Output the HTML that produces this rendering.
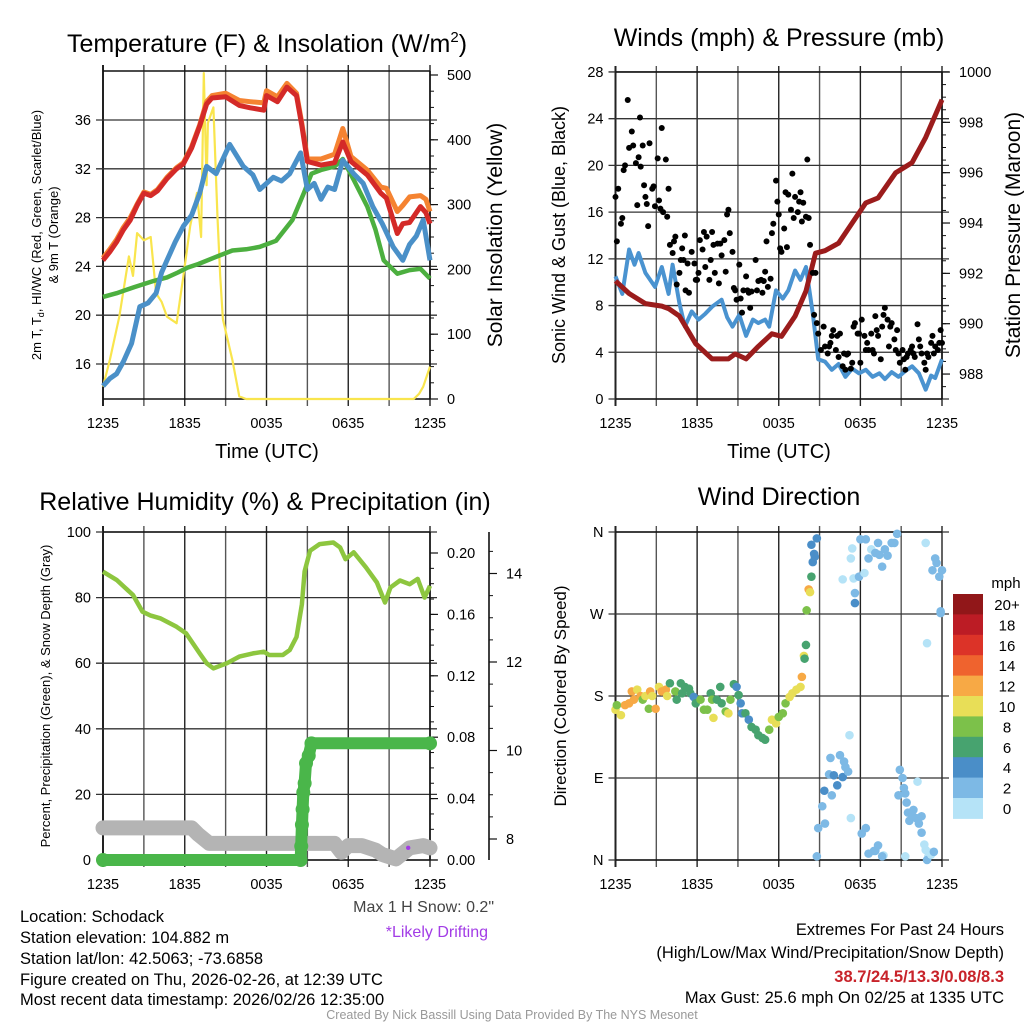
<!DOCTYPE html>
<html><head><meta charset="utf-8"><style>
html,body{margin:0;padding:0;background:#fff;}
svg{display:block;font-family:"Liberation Sans",Arial,sans-serif;}
</style></head><body>
<svg id="chart" width="1024" height="1024" viewBox="0 0 1024 1024" xmlns="http://www.w3.org/2000/svg">
<rect width="1024" height="1024" fill="#fff"/>
<text x="267" y="52" font-size="25" text-anchor="middle">Temperature (F) &amp; Insolation (W/m<tspan font-size="15" dy="-10">2</tspan><tspan dy="10">)</tspan></text>
<text x="779" y="46" font-size="25" text-anchor="middle">Winds (mph) &amp; Pressure (mb)</text>
<text x="265" y="510" font-size="25" text-anchor="middle">Relative Humidity (%) &amp; Precipitation (in)</text>
<text x="779" y="505" font-size="25" text-anchor="middle">Wind Direction</text>

<text x="267" y="458" font-size="20" text-anchor="middle">Time (UTC)</text>
<text x="779" y="458" font-size="20" text-anchor="middle">Time (UTC)</text>
<text transform="translate(41,235) rotate(-90)" font-size="13" text-anchor="middle">2m T, T<tspan font-size="9" dy="3">d</tspan><tspan dy="-3">, HI/WC (Red, Green, Scarlet/Blue)</tspan></text>
<text transform="translate(58,235) rotate(-90)" font-size="13" text-anchor="middle">&amp; 9m T (Orange)</text>
<text transform="translate(502,235) rotate(-90)" font-size="21" text-anchor="middle">Solar Insolation (Yellow)</text>
<text transform="translate(565,235) rotate(-90)" font-size="18" text-anchor="middle">Sonic Wind &amp; Gust (Blue, Black)</text>
<text transform="translate(1020,235) rotate(-90)" font-size="21" text-anchor="middle">Station Pressure (Maroon)</text>
<text transform="translate(50,696) rotate(-90)" font-size="13" text-anchor="middle">Percent, Precipitation (Green), &amp; Snow Depth (Gray)</text>
<text transform="translate(566,696) rotate(-90)" font-size="17" text-anchor="middle">Direction (Colored By Speed)</text>

<g id="layer"></g>

<text x="494" y="912" font-size="16" fill="#444" text-anchor="end">Max 1 H Snow: 0.2"</text>
<text x="488" y="937" font-size="16" fill="#a23ce6" text-anchor="end">*Likely Drifting</text>
<g font-size="16.5">
<text x="20" y="922">Location: Schodack</text>
<text x="20" y="943">Station elevation: 104.882 m</text>
<text x="20" y="964">Station lat/lon: 42.5063; -73.6858</text>
<text x="20" y="985">Figure created on Thu, 2026-02-26, at 12:39 UTC</text>
<text x="20" y="1005">Most recent data timestamp: 2026/02/26 12:35:00</text>
</g>
<g font-size="16.5" text-anchor="end">
<text x="1004" y="935">Extremes For Past 24 Hours</text>
<text x="1004" y="958">(High/Low/Max Wind/Precipitation/Snow Depth)</text>
<text x="1004" y="982" fill="#c8232a" font-weight="bold">38.7/24.5/13.3/0.08/8.3</text>
<text x="1004" y="1003">Max Gust: 25.6 mph On 02/25 at 1335 UTC</text>
</g>
<text x="512" y="1019" font-size="12.5" fill="#999" text-anchor="middle">Created By Nick Bassill Using Data Provided By The NYS Mesonet</text>
</svg>
<script>
// ---------- data ----------
const timeLabels = ["1235","1835","0035","0635","1235"];
const tempTicks = [16,20,24,28,32,36];
const solarTicks = [0,100,200,300,400,500];
const windTicks = [0,4,8,12,16,20,24,28];
const presTicks = [988,990,992,994,996,998,1000];
const rhTicks = [0,20,40,60,80,100];
const precipTicks = ["0.00","0.04","0.08","0.12","0.16","0.20"];
const snowTicks = [8,10,12,14];
const dirTicks = ["N","E","S","W","N"];
const speedBins = ["0","2","4","6","8","10","12","14","16","18","20+"];

const redH = [0,0.5,1,1.5,2,2.5,3,3.5,4,4.7,5.4,5.9,6.5,7.1,7.6,8,9,10,10.8,11.8,12,12.8,13.5,14.2,14.6,15,16,17,17.6,18.2,19.4,20.4,20.8,21.6,22,22.5,23.3,23.7,24];
const redV = [24.5,25.2,26,27,27.8,29,30,29.8,30.2,31.2,32,32.4,33.7,35.5,37.3,37.8,37.9,37.2,37,36.8,38,37.5,38.7,38,35.5,32.6,32.3,32.5,34.2,32.6,31.5,30.0,29.6,26.7,27.5,27.6,28.9,28.4,27.5];
const orangeV = [24.7,25.4,26.2,27.2,28,29.1,30.1,29.9,30.3,31.3,32.1,32.5,33.8,35.6,37.5,38,38.2,37.6,37.5,37.4,38.4,37.9,39,38.2,35.7,32.8,32.8,33.2,35.3,33,31.9,30.5,30.4,28.5,29,29.7,29.8,29.5,28.5];
const blueH = [0,0.5,1,1.5,2.1,2.7,3.3,3.9,4.3,4.7,5.3,5.9,6.5,7.1,7.6,8.3,9.3,10.3,11,11.5,12.5,13.1,13.7,14.5,15,15.5,16,16.5,17,17.6,18.4,19.1,19.8,20.5,21.3,22,22.5,23,23.5,24];
const blueV = [14.2,14.8,15.2,16.2,17.7,20.7,21,21.8,23.5,24.5,26,27.3,28.2,30,32.2,31.6,34,32.2,31.5,30.3,31.3,31,31.6,33.3,30.3,30.8,29.5,30.5,30.3,32.7,31.6,30.8,28.9,27.5,25.6,24.5,25.8,26.5,27.8,24.5];
const greenH = [0,1,2.3,3.7,4.7,5.5,6.2,7,8.1,9.5,10.5,11.5,12.7,13.9,14.7,15.3,16,17,17.6,18.4,19.4,20,20.6,21.6,22.5,23.3,24];
const greenV = [21.5,21.8,22.3,22.8,23.1,23.5,23.9,24.2,24.7,25.3,25.4,25.6,26.1,27.8,29.9,31.6,31.9,32.2,32.8,31.1,28.9,27,24.5,23.4,23.7,23.8,23];
const solarH = [0,0.5,1.2,1.9,2.2,2.5,3,3.5,3.9,4.3,4.7,5.4,5.9,6.4,6.9,7.2,7.4,7.6,7.7,8.1,8.4,8.6,8.8,9.5,10,10.5,22.8,23.2,23.5,24];
const solarV = [19,60,127,220,190,256,245,250,163,150,127,117,190,267,318,250,503,330,426,450,280,190,123,60,4,0,0,8,19,50];

const windH = [0,0.5,1,1.4,1.7,2.2,2.9,3.4,3.9,4.2,4.7,5.1,5.6,6.1,6.6,7.1,7.8,8.2,8.6,9.1,9.6,10.1,10.5,11,11.3,11.8,12.3,12.7,13.2,13.6,14,14.5,14.9,15.4,15.9,16.4,16.9,17.4,17.9,18.4,18.9,19.4,19.8,20.3,20.8,21.3,21.8,22.3,22.8,23.2,23.5,24];
const windV = [10.5,9,12.8,11.5,12.5,10.8,9.6,11.3,9,11.5,8.2,6.2,7.5,6.8,7.3,7.9,8.5,7,6.2,7.2,5.4,6.8,6.5,6.8,6.2,9.3,8.6,9.3,11,10.2,11.3,7.3,3.4,3.2,2.5,3,1.9,2.6,2.2,2.5,1.9,2.2,1.7,2.3,1.9,2.4,2.8,2.2,0.8,2,1.8,3.4];
const presH = [0,1,2.2,3.4,3.9,4.7,5.9,7.1,8.3,8.8,9.6,10.5,11.5,12.2,13.2,14,14.7,15.4,16.4,17.4,18.4,19.3,20.6,21.8,22.8,24];
const presV = [991.7,991.2,990.8,990.7,990.6,990.3,989.2,988.6,988.6,988.8,988.6,989.1,989.6,989.5,990.3,991.3,992.8,992.9,993.2,994,994.8,995,996,996.4,997.4,998.9];
const gustH = [0,0.1,0.2,0.4,0.5,0.6,0.7,0.9,1,1.2,1.3,1.5,1.6,1.7,1.8,1.85,2,2.1,2.2,2.3,2.4,2.5,2.7,2.8,2.9,3.1,3.2,3.3,3.4,3.5,3.7,3.8,3.9,4,4.2,4.3,4.4,4.5,4.7,4.8,4.9,5,5.1,5.15,5.3,5.4,5.6,5.8,5.9,6,6.1,6.2,6.4,6.5,6.6,6.7,6.9,7,7.1,7.2,7.3,7.5,7.6,7.7,7.8,8,8.1,8.2,8.3,8.4,8.6,8.7,8.8,8.9,9.1,9.2,9.3,9.4,9.6,9.7,9.8,9.9,10,10.3,10.4,10.5,10.7,10.8,10.9,11,11.1,11.2,11.4,11.5,11.6,11.8,11.9,12,12.1,12.2,12.4,12.5,12.6,12.7,12.9,13,13.1,13.2,13.4,13.5,13.6,13.7,13.8,14,14.1,14.2,14.3,14.5,14.6,14.7,14.8,14.9,15.1,15.3,15.4,15.6,15.7,15.8,15.9,16,16.2,16.3,16.4,16.5,16.7,16.8,16.9,17,17.1,17.3,17.4,17.5,17.6,17.8,17.9,18,18.1,18.3,18.4,18.5,18.6,18.8,18.9,19,19.1,19.2,19.3,19.5,19.6,19.7,19.8,20,20.1,20.2,20.3,20.5,20.6,20.7,20.8,20.9,21.1,21.2,21.3,21.4,21.5,21.7,21.8,21.9,22,22.2,22.3,22.4,22.5,22.7,22.8,22.9,23,23.2,23.3,23.4,23.5,23.7,23.8,23.9,24];
const gustV = [17.3,13.5,18,15,15.5,19.6,20,25.6,21.5,22.9,21.7,20.2,16.6,20.7,24.1,19.9,21.7,18.3,17.3,16.7,14.8,21.9,18,18.2,16.5,20.6,17,16.3,23.2,16,20.5,15.6,18,13.2,12.5,13.5,13.9,9.8,10.8,11.9,12.9,11.9,14,9.3,11.6,9.1,12.6,11.6,10.2,10.2,10.8,13.6,12.8,14.3,11.3,13.9,10.2,11.9,14.3,13.2,10.8,13.3,9.9,13.3,12.3,13.6,10.9,15.8,16.2,14.2,12.6,9.5,9.3,8.5,11.5,8.6,7.4,9.3,10.5,9.3,9.1,7.8,9.2,11.9,9.3,10.1,10.2,9.1,10.1,10.9,13.5,9.6,10.3,14.2,15,18.7,16.9,15.8,12.9,12.6,14.6,17.7,13,17.5,16.2,19.3,15.5,17.3,16,16.9,17.7,15.2,16.8,15.6,20.5,15.5,13.2,10.8,7.2,10.8,6.5,5.6,4.2,6.2,4.5,3.9,4.5,4.8,5.4,5.9,4.2,5.4,3.6,5.6,2.8,3.9,2.5,3.8,3.9,2.6,3.1,6.2,6.5,5.6,5.6,3.1,6.8,5.4,4.2,4.8,4.2,5.6,4.2,3.9,7.1,5.9,5.4,3.4,6.2,7.2,7.8,6.8,4.5,6.2,6.5,5.1,4.2,5.9,3.9,3.1,4.2,3.4,2.5,3.6,3.9,4.2,4.5,3.9,3.6,6.4,5.1,4.5,3.9,3.1,2.5,3.9,3.6,4.8,5.4,3.9,4.5,4.2,4.8,5.9,4.8];

const rhH = [0,1,2.2,2.9,3.5,4.2,5.4,6.1,7.1,7.6,8.1,9.1,10,11,11.8,12.2,13.2,13.7,14.2,14.6,14.8,15.2,15.9,16.9,17.4,17.8,18.4,19.3,20.1,20.7,21.1,21.8,22.5,23.1,23.6,24];
const rhV = [87.9,85.4,80.8,75.7,74.5,73.7,71.1,69.1,63,60,58.4,60,62,63,63.5,62.5,62.5,64,68,78,88,94.3,96.3,96.8,95.3,91.7,93.8,89.2,84.6,78.5,83.1,85.2,84.1,85.7,80,83.6];
const precipH = [0,14.5,14.55,14.6,14.65,14.7,14.8,14.9,15.1,15.3,24];
const precipV = [0,0,0.009,0.023,0.033,0.044,0.05,0.063,0.068,0.076,0.076];
const snowH = [0,6.5,7,7.8,12,17,17.5,18,19,20,20.5,21.5,22.5,23.5,24];
const snowV = [8.25,8.25,8.1,7.9,7.9,7.9,7.7,7.85,7.85,7.75,7.65,7.55,7.8,7.85,7.8];
const driftH = [22.4];
const driftV = [7.8];

const dirH = [0,0.1,0.4,0.7,1,1.2,1.35,1.6,1.85,2,2.2,2.45,2.55,2.7,2.95,3.2,3.4,3.7,3.8,4,4.4,4.5,4.8,4.9,5.1,5.4,5.5,5.75,5.9,6.25,6.5,6.75,7,7.1,7.2,7.45,7.7,7.8,8.1,8.3,8.45,8.7,8.9,9.05,9.2,9.3,9.55,9.8,10,10.3,10.5,10.8,11,11.3,11.5,11.8,12,12.3,12.5,12.8,13,13.3,13.6,13.7,13.85,13.9,14,14.05,14.2,14.3,14.4,14.5,14.65,14.6,14.4,14.8,
 16.7,17.3,17.4,17.5,17.6,17.6,17.9,18,18.3,18.4,18.6,18.8,19.1,19.3,19.4,19.6,19.8,20,20.3,20.5,20.7,22.8,22.9,23.5,23.6,23.3,23.8,24,23.9,23.9,
 14.8,14.9,15.2,15.4,15.35,15.7,15.8,15.9,16.05,16.3,16.5,16.7,16.8,16.9,17.1,17.2,17.3,18.1,18.4,18.6,19,19.1,19.3,19.7,19.6,20.8,20.9,21.1,21.2,21.3,21.3,21.4,21.5,21.6,21.8,21.9,22.1,22.2,22.3,22.5,22.7,23,22.9,22.8,23.1,23.2,23.4,22.5];
const dirV = [165,170,159,170,172,185,176,187,180,176,180,166,185,180,166,190,185,187,180,194,185,176,194,183,190,188,183,179,172,176,165,165,183,176,156,176,190,172,163,161,176,193,190,181,172,161,161,154,146,143,137,134,132,143,154,150,157,161,172,179,183,187,190,201,224,221,236,274,297,294,311,327,333,336,346,353,
 308,331,342,309,293,282,311,352,315,352,331,341,337,348,335,322,341,334,348,348,358,348,238,331,326,318,311,318,273,271,
 4,35,59,40,76,94,112,71,93,82,115,91,108,102,97,137,46,29,35,7,10,10,16,5,4,71,99,90,79,73,4,63,52,43,49,55,46,86,40,30,17,4,0,11,8,6,9,48];
const dirS = [10,8,10,12,12,12,12,10,12,8,10,8,12,10,12,10,12,12,10,6,8,6,6,6,6,6,6,4,6,8,8,8,6,8,10,6,6,6,8,10,8,6,4,6,4,4,6,4,6,6,6,6,6,8,10,10,8,8,8,10,10,10,10,12,10,6,6,8,12,10,6,4,4,4,4,4,
 0,0,0,0,2,4,2,2,0,2,2,0,2,2,2,2,2,2,2,2,2,0,0,2,2,2,2,2,3,2,
 2,2,2,2,4,2,2,2,4,4,2,4,2,2,2,0,0,2,2,2,2,2,2,0,2,2,2,2,2,2,0,2,2,2,2,2,2,0,2,2,0,0,2,0,0,0,2,2];
const speedColors = ["#b5e3f7","#7db9e5","#4a8ec8","#47a36f","#7cc14a","#e8de57","#f7a945","#ef632e","#dc3328","#bc1c25","#911719"];

// ---------- helpers ----------
const NS="http://www.w3.org/2000/svg";
const layer=document.getElementById('layer');
function mk(tag,attrs,parent){const e=document.createElementNS(NS,tag);for(const k in attrs)e.setAttribute(k,attrs[k]);(parent||layer).appendChild(e);return e;}
function grp(name){const g=mk('g',{});return g;}
function xsc(x0,x1){return h=>x0+h/24*(x1-x0);}
function linePath(H,V,xf,yf){return H.map((h,i)=>(i?'L':'M')+xf(h).toFixed(1)+','+yf(V[i]).toFixed(1)).join('');}

function frame(name,x0,x1,yT,yB,hLines){
  const g=grp(name);
  for(let k=0;k<=8;k++){const x=x0+k*(x1-x0)/8;
    mk('line',{x1:x,y1:yT-6,x2:x,y2:yB+7,stroke:k%2?'#555':'#222','stroke-width':k===0?2:1.4},g);}
  hLines.forEach(y=>mk('line',{x1:x0-7,y1:y,x2:x1+7,y2:y,stroke:'#333','stroke-width':1.3},g));
  mk('line',{x1:x0,y1:yT,x2:x1,y2:yT,stroke:'#111','stroke-width':1.4},g);
  mk('line',{x1:x0,y1:yB,x2:x1,y2:yB,stroke:'#111','stroke-width':1.6},g);
  const tl=grp(name+'-x-ticks');
  timeLabels.forEach((t,i)=>{const e=mk('text',{x:x0+i*(x1-x0)/4,y:yB+29,'font-size':14.5,'text-anchor':'middle'},tl);e.textContent=t;});
  return g;
}
function leftLabels(name,vals,yf,x0,labels){const g=grp(name);
  vals.forEach((v,i)=>{const e=mk('text',{x:x0-12,y:yf(v)+5,'font-size':14.5,'text-anchor':'end'},g);e.textContent=labels?labels[i]:v;});}
function rightAxis(name,vals,yf,x,yT,yB,labels,minor){const g=grp(name);
  mk('line',{x1:x,y1:yT,x2:x,y2:yB,stroke:'#111','stroke-width':1.6},g);
  vals.forEach((v,i)=>{const y=yf(v);mk('line',{x1:x,y1:y,x2:x+8,y2:y,stroke:'#111','stroke-width':1.2},g);
    const e=mk('text',{x:x+17,y:y+5,'font-size':14.5},g);e.textContent=labels?labels[i]:v;});
  if(minor)minor.forEach(v=>{const y=yf(v);if(y>=yT&&y<=yB)mk('line',{x1:x,y1:y,x2:x+4,y2:y,stroke:'#111','stroke-width':1},g);});}

// ---------- panel 1: temperature ----------
(function(){
  const x0=103,x1=430,yT=71,yB=399,xf=xsc(x0,x1);
  const yT_=T=>120+(36-T)*12.2, yS=s=>399-s*0.648;
  frame('temp-panel',x0,x1,yT,yB,tempTicks.map(yT_));
  leftLabels('temp-y-ticks',tempTicks,yT_,x0);
  const mn=[];for(let s=0;s<=500;s+=25)mn.push(s);
  rightAxis('solar-axis',solarTicks,yS,x1,yT,yB,null,mn);
  const s=grp('temp-series');
  const solar=mk('path',{d:linePath(solarH,solarV,xf,yS),fill:'none',stroke:'#f9e54d','stroke-width':2.2,'stroke-linejoin':'round'},s);
  
  const gr=mk('path',{d:linePath(greenH,greenV,xf,yT_),fill:'none',stroke:'#4caf3f','stroke-width':4.5,'stroke-linejoin':'round'},s);
  
  const bl=mk('path',{d:linePath(blueH,blueV,xf,yT_),fill:'none',stroke:'#4a90c8','stroke-width':5,'stroke-linejoin':'round'},s);
  
  const or=mk('path',{d:linePath(redH,orangeV,xf,yT_),fill:'none',stroke:'#f58331','stroke-width':5,'stroke-linejoin':'round'},s);
  
  const rd=mk('path',{d:linePath(redH,redV,xf,yT_),fill:'none',stroke:'#d42a28','stroke-width':5,'stroke-linejoin':'round'},s);
  
})();

// ---------- panel 2: wind ----------
(function(){
  const x0=615.5,x1=942,yT=72,yB=399,xf=xsc(x0,x1);
  const yW=v=>399-v*11.68, yP=p=>72+(1000-p)*25.17;
  frame('wind-panel',x0,x1,yT,yB,windTicks.map(yW));
  leftLabels('wind-y-ticks',windTicks,yW,x0);
  const mn=[];for(let p=987;p<=1000;p+=0.5)mn.push(p);
  rightAxis('pressure-axis',presTicks,yP,x1,yT,yB,null,mn);
  const s=grp('wind-series');
  const wl=mk('path',{d:linePath(windH,windV,xf,yW),fill:'none',stroke:'#4a93d0','stroke-width':4,'stroke-linejoin':'round'},s);
  
  const pl=mk('path',{d:linePath(presH,presV,xf,yP),fill:'none',stroke:'#9b1c1c','stroke-width':5,'stroke-linejoin':'round'},s);
  
  const gg=grp('gust-points');
  gustH.forEach((h,i)=>{const c=mk('circle',{cx:xf(h),cy:yW(gustV[i]),r:3,fill:'#000'},gg);
    
    });
})();

// ---------- panel 3: RH / precip ----------
(function(){
  const x0=103,x1=430,yT=532,yB=860,xf=xsc(x0,x1);
  const yR=r=>860-r*3.28, yPr=v=>860-v*1535, ySn=s=>839-(s-8)*44.25;
  frame('rh-panel',x0,x1,yT,yB,rhTicks.map(yR));
  leftLabels('rh-y-ticks',rhTicks,yR,x0);
  const mn=[];for(let v=0;v<=0.21;v+=0.01)mn.push(v);
  rightAxis('precip-axis',precipTicks.map(Number),yPr,x1,yT,yB,precipTicks,mn);
  const mn2=[];for(let v=7.5;v<=15;v+=0.5)mn2.push(v);
  rightAxis('snow-axis',snowTicks,ySn,489,yT,yB,null,mn2);
  const s=grp('rh-series');
  const sn=mk('path',{d:linePath(snowH,snowV,xf,ySn),fill:'none',stroke:'#b4b4b4','stroke-width':15,'stroke-linejoin':'round','stroke-linecap':'round'},s);
  
  const pr=mk('path',{d:linePath(precipH,precipV,xf,yPr),fill:'none',stroke:'#4ab64a','stroke-width':12,'stroke-linejoin':'round','stroke-linecap':'round'},s);
  
  precipH.forEach((h,i)=>{const c=mk('circle',{cx:xf(h),cy:yPr(precipV[i]),r:7,fill:'#4ab64a'},s);
    
    });
  const rh=mk('path',{d:linePath(rhH,rhV,xf,yR),fill:'none',stroke:'#8dc63f','stroke-width':4.5,'stroke-linejoin':'round'},s);
  
  driftH.forEach((h,i)=>{const c=mk('circle',{cx:xf(h),cy:ySn(driftV[i]),r:2.2,fill:'#a23ce6'},s);
    
    });
})();

// ---------- panel 4: direction ----------
(function(){
  const x0=615.5,x1=942,yT=532,yB=860,xf=xsc(x0,x1);
  const yD=d=>860-d*0.9111;
  const dv=[0,90,180,270,360];
  frame('direction-panel',x0,x1,yT,yB,dv.map(yD));
  leftLabels('direction-y-ticks',dv,yD,x0,dirTicks);
  const g=grp('direction-points');
  dirH.forEach((h,i)=>{const bin=Math.min(10,Math.floor(dirS[i]/2));
    const c=mk('circle',{cx:xf(h),cy:yD(dirV[i]),r:4.3,fill:speedColors[bin]},g);
    
    });
  const lg=grp('speed-colorbar');
  const bx=953,bw=30,bTop=594,bh=20.4;
  const t=mk('text',{x:1006,y:588,'font-size':15,'text-anchor':'middle'},lg);t.textContent='mph';
  speedBins.forEach((lab,i)=>{const k=10-i;const y=bTop+i*bh;
    const r=mk('rect',{x:bx,y:y,width:bw,height:bh+0.5,fill:speedColors[k]},lg);
    
    
    const e=mk('text',{x:1007,y:y+16,'font-size':15,'text-anchor':'middle'},lg);e.textContent=speedBins[k];});
})();
</script>
</body></html>
